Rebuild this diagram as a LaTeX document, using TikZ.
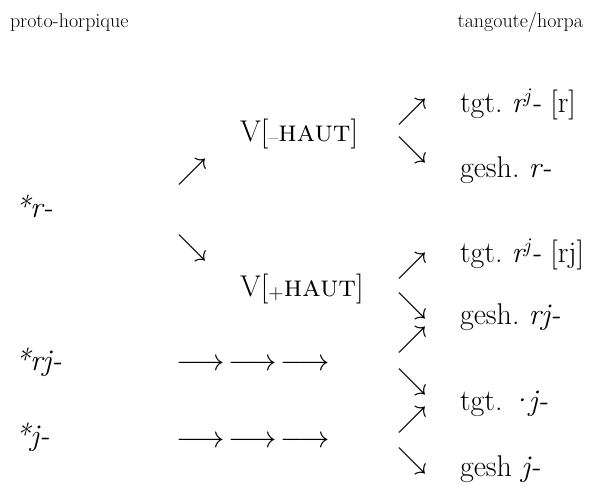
\documentclass[tikz,border=0pt]{standalone}
\usepackage{fontspec}
\frenchspacing
\begin{document}
\begin{tikzpicture}[x=1pt,y=-1pt,
  every node/.style={inner sep=0pt,outer sep=0pt},
  big/.style={font=\fontsize{30}{33}\selectfont, anchor=base west},
  small/.style={font=\fontsize{20}{22}\selectfont, anchor=base west},
  arr/.style={font=\fontsize{24.88}{28}\selectfont, anchor=center, scale=1.2, transform shape},
  larr/.style={font=\fontsize{24.88}{28}\selectfont, anchor=base west, scale=1.22, transform shape}]
\useasboundingbox (0,0) rectangle (593,498);
% headers
\node[small] (h1) at (10,27) {proto-horpique};
\node[small,anchor=base east] (h2) at (583,27) {tangoute/horpa};
% proto forms
\node[big] (pr) at (15,217) {\textit{*r-}};
\node[big] (prj) at (15,370) {\textit{*rj-}};
\node[big] (pj) at (15,445) {\textit{*j-}};
% first arrows
\node[arr] (a1) at (192,172) {$\nearrow$};
\node[arr] (a2) at (192,248) {$\searrow$};
\node[larr] (l1) at (176,370) {$\longrightarrow\mkern2mu\longrightarrow\mkern2mu\longrightarrow$};
\node[larr] (l2) at (176,447) {$\longrightarrow\mkern2mu\longrightarrow\mkern2mu\longrightarrow$};
% intermediate
\node[big] (vm) at (240,141) {V[\textsubscript{–}\textsc{haut}]};
\node[big] (vp) at (240,296) {V[\textsubscript{+}\textsc{haut}]};
% second arrows
\node[arr] (b1) at (412,112) {$\nearrow$};
\node[arr] (b2) at (412,150) {$\searrow$};
\node[arr] (b3) at (412,266) {$\nearrow$};
\node[arr] (b4) at (412,306) {$\searrow$};
\node[arr] (b5) at (412,340) {$\nearrow$};
\node[arr] (b6) at (412,382) {$\searrow$};
\node[arr] (b7) at (412,420) {$\nearrow$};
\node[arr] (b8) at (412,461) {$\searrow$};
% outcomes
\node[big] (o1) at (460,112) {tgt. \textit{r\textsuperscript{j}-} [r]};
\node[big] (o2) at (460,177) {gesh. \textit{r-}};
\node[big] (o3) at (460,262) {tgt. \textit{r\textsuperscript{j}-} [rj]};
\node[big] (o4) at (460,324) {gesh. \textit{rj-}};
\node[big] (o5) at (460,410) {tgt. \kern-0.1em\textit{\textperiodcentered\kern-0.08em j-}};
\node[big] (o6) at (460,476) {gesh \textit{j-}};
\end{tikzpicture}
\end{document}
